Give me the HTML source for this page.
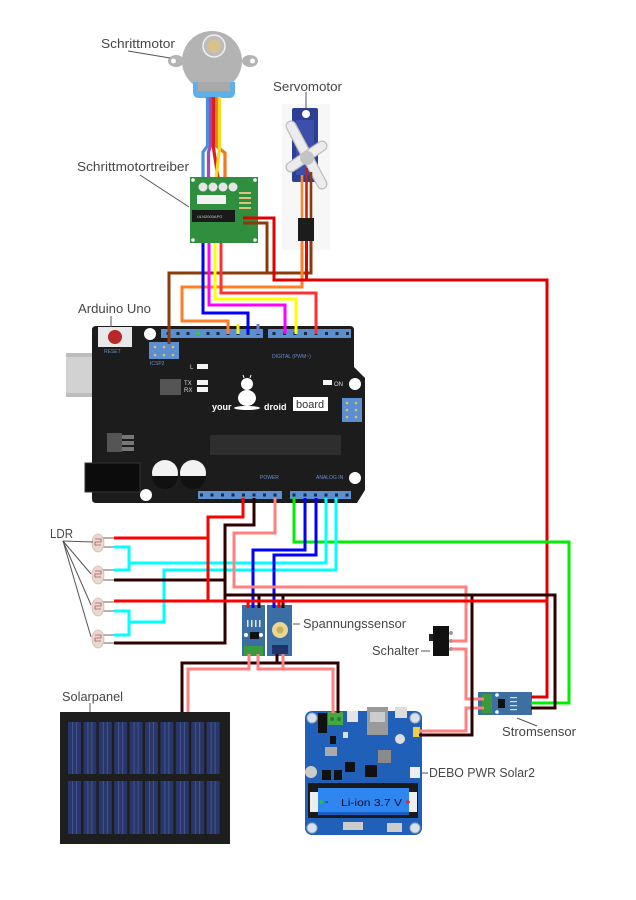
<!DOCTYPE html>
<html><head><meta charset="utf-8"><style>
html,body{margin:0;padding:0;background:#fff;}
svg{display:block;}
text{font-family:"Liberation Sans",sans-serif;}
</style></head><body>
<svg width="636" height="900" viewBox="0 0 636 900" xmlns="http://www.w3.org/2000/svg">
<rect width="636" height="900" fill="#fff"/>

<!-- ================= STEPPER MOTOR ================= -->
<ellipse cx="176" cy="61" rx="8" ry="6" fill="#b3b3b3"/>
<circle cx="173.5" cy="61" r="2.5" fill="#fff"/>
<ellipse cx="250" cy="61" rx="8" ry="6" fill="#b3b3b3"/>
<circle cx="252.5" cy="61" r="2.5" fill="#fff"/>
<circle cx="212" cy="61" r="30" fill="#b3b3b3"/>
<circle cx="214" cy="46" r="11" fill="#bdbdbd" stroke="#f0f0f0" stroke-width="1.5"/>
<circle cx="214" cy="46" r="6.5" fill="#d8c28a"/>
<path d="M193 82 H235 V92 Q235 98 229 98 H199 Q193 98 193 92 Z" fill="#5fb0e8"/>
<rect x="198" y="82" width="32" height="9" fill="#a9a9a9"/>
<g fill="none" stroke-width="3.2">
<path d="M207.5 97 V146 L203 152 V197" stroke="#4a90d9"/>
<path d="M210.5 97 V146 L208.5 152 V197" stroke="#a848b8"/>
<path d="M216.5 97 V146 L225 153 V197" stroke="#f07a20"/>
<path d="M213.5 97 V148 L221 197" stroke="#d82020"/>
<path d="M219.5 97 V148 L214 197" stroke="#f2dc20"/>
</g>

<!-- ================= DRIVER BOARD ================= -->
<rect x="190" y="177" width="68" height="66" fill="#2f8f3f"/>
<circle cx="193" cy="180" r="1.8" fill="#fff"/><circle cx="255" cy="180" r="1.8" fill="#fff"/>
<circle cx="193" cy="240" r="1.8" fill="#fff"/><circle cx="255" cy="240" r="1.8" fill="#fff"/>
<circle cx="203" cy="187" r="4.5" fill="#e6e6e6"/>
<circle cx="213" cy="187" r="4.5" fill="#e6e6e6"/>
<circle cx="223" cy="187" r="4.5" fill="#e6e6e6"/>
<circle cx="233" cy="187" r="4.5" fill="#e6e6e6"/>
<rect x="197" y="195" width="29" height="9" fill="#f2f2f2"/>
<g stroke="#e0c080" stroke-width="2">
<line x1="239" y1="193" x2="251" y2="193"/><line x1="239" y1="198" x2="251" y2="198"/>
<line x1="239" y1="203" x2="251" y2="203"/><line x1="239" y1="208" x2="251" y2="208"/>
</g>
<rect x="192" y="210" width="43" height="12" fill="#1a1a1a"/>
<text x="197" y="218" font-size="4" fill="#ccc">ULN2003APG</text>

<!-- ================= SERVO ================= -->
<rect x="282" y="104" width="48" height="146" fill="#f7f7f7"/>
<rect x="292" y="108" width="26" height="74" rx="2" fill="#2d3e95"/>
<rect x="296" y="120" width="18" height="55" fill="#3b4fab"/>
<circle cx="306" cy="114" r="4" fill="#fff"/>
<line x1="291" y1="126" x2="322" y2="184" stroke="#bdbdbd" stroke-width="11" stroke-linecap="round"/>
<line x1="291" y1="126" x2="322" y2="184" stroke="#ececec" stroke-width="8.5" stroke-linecap="round"/>
<line x1="291" y1="167" x2="322" y2="146" stroke="#bdbdbd" stroke-width="11" stroke-linecap="round"/>
<line x1="291" y1="167" x2="322" y2="146" stroke="#ececec" stroke-width="8.5" stroke-linecap="round"/>
<circle cx="307" cy="158" r="7" fill="#c4c4c4"/>
<g fill="none" stroke-width="2.6">
<path d="M302 175 V218" stroke="#f08a30"/>
<path d="M306.5 168 V218" stroke="#c82010"/>
<path d="M311 172 V218" stroke="#8b3a0a"/>
</g>
<rect x="298" y="218" width="16" height="23" fill="#1c1c1c"/>

<!-- ================= ARDUINO ================= -->
<rect x="66" y="353" width="62" height="44" fill="#bdbdbd"/>
<rect x="66" y="357" width="44" height="36" fill="#d2d2d2"/>
<path d="M96 326 H350 Q354 326 354 330 V367 L365 378 V490 L357 503 H96 Q92 503 92 499 V330 Q92 326 96 326 Z" fill="#1c1c1c"/>
<rect x="85" y="463" width="55" height="29" fill="#0c0c0c" stroke="#333" stroke-width="1"/>
<rect x="98" y="327" width="34" height="20" fill="#e8e8e8"/>
<circle cx="115" cy="337" r="7" fill="#b82828"/>
<text x="104" y="353" font-size="5" fill="#6a8fc8">RESET</text>
<!-- headers -->
<rect x="161" y="329" width="102" height="9" fill="#5b8fd0"/>
<rect x="268" y="329" width="83" height="9" fill="#5b8fd0"/>
<g fill="#1a2a40">
<rect x="166.5" y="332" width="3" height="3"/><rect x="176.5" y="332" width="3" height="3"/><rect x="186.5" y="332" width="3" height="3"/><rect x="196.5" y="332" width="3" height="3"/><rect x="206.5" y="332" width="3" height="3"/><rect x="216.5" y="332" width="3" height="3"/><rect x="226.5" y="332" width="3" height="3"/><rect x="236.5" y="332" width="3" height="3"/><rect x="246.5" y="332" width="3" height="3"/><rect x="256.5" y="332" width="3" height="3"/>
<rect x="272.5" y="332" width="3" height="3"/><rect x="283" y="332" width="3" height="3"/><rect x="293.5" y="332" width="3" height="3"/><rect x="304" y="332" width="3" height="3"/><rect x="314.5" y="332" width="3" height="3"/><rect x="325" y="332" width="3" height="3"/><rect x="335.5" y="332" width="3" height="3"/><rect x="346" y="332" width="3" height="3"/>
</g>
<rect x="196.5" y="332" width="3" height="3" fill="#3c3"/>
<rect x="149" y="342" width="30" height="17" fill="#5b8fd0"/>
<g fill="#d8c070">
<circle cx="155" cy="347" r="1.3"/><circle cx="164" cy="347" r="1.3"/><circle cx="173" cy="347" r="1.3"/>
<circle cx="155" cy="355" r="1.3"/><circle cx="164" cy="355" r="1.3"/><circle cx="173" cy="355" r="1.3"/>
</g>
<text x="150" y="365" font-size="5" fill="#6a8fc8">ICSP2</text>
<text x="272" y="358" font-size="5" fill="#6a8fc8">DIGITAL (PWM~)</text>
<!-- holes -->
<circle cx="150" cy="334" r="6" fill="#fff"/>
<circle cx="355" cy="384" r="6" fill="#fff"/>
<circle cx="355" cy="478" r="6" fill="#fff"/>
<circle cx="146" cy="495" r="6" fill="#fff"/>
<!-- leds -->
<text x="190" y="369" font-size="6" fill="#ddd">L</text>
<rect x="197" y="364" width="11" height="5" fill="#f4f4f4"/>
<text x="184" y="385" font-size="6" fill="#ddd">TX</text>
<rect x="197" y="380" width="11" height="5" fill="#f4f4f4"/>
<text x="184" y="392" font-size="6" fill="#ddd">RX</text>
<rect x="197" y="387" width="11" height="5" fill="#f4f4f4"/>
<rect x="323" y="380" width="9" height="5" fill="#f4f4f4"/>
<text x="334" y="386" font-size="6" fill="#ddd">ON</text>
<rect x="160" y="379" width="21" height="16" fill="#555"/>
<!-- logo -->
<circle cx="247" cy="384" r="6" fill="#fff"/>
<ellipse cx="247" cy="398" rx="9" ry="8" fill="#fff"/>
<ellipse cx="247" cy="408" rx="13" ry="2" fill="#fff"/>
<line x1="244" y1="378" x2="243" y2="375" stroke="#fff" stroke-width="1"/>
<line x1="250" y1="378" x2="251" y2="375" stroke="#fff" stroke-width="1"/>
<text x="212" y="410" font-size="9" font-weight="bold" fill="#fff">your</text>
<text x="264" y="410" font-size="9" font-weight="bold" fill="#fff">droid</text>
<rect x="293" y="397" width="35" height="14" fill="#fff"/>
<text x="296" y="408" font-size="11" fill="#333">board</text>
<rect x="342" y="398" width="20" height="24" fill="#5b8fd0"/>
<g fill="#d8c070">
<circle cx="347" cy="403" r="1.3"/><circle cx="356" cy="403" r="1.3"/>
<circle cx="347" cy="410" r="1.3"/><circle cx="356" cy="410" r="1.3"/>
<circle cx="347" cy="417" r="1.3"/><circle cx="356" cy="417" r="1.3"/>
</g>
<rect x="210" y="435" width="131" height="20" fill="#2e2e2e"/>
<rect x="107" y="433" width="15" height="19" fill="#555"/>
<rect x="122" y="435" width="12" height="4" fill="#777"/><rect x="122" y="441" width="12" height="4" fill="#777"/><rect x="122" y="447" width="12" height="4" fill="#777"/>
<!-- capacitors -->
<circle cx="165" cy="473" r="13" fill="#f2f2f2"/>
<path d="M152 476 A13 13 0 0 0 178 476 Z" fill="#111"/>
<circle cx="193" cy="473" r="13" fill="#f2f2f2"/>
<path d="M180 476 A13 13 0 0 0 206 476 Z" fill="#111"/>
<!-- bottom headers -->
<text x="260" y="479" font-size="5" fill="#6a8fc8">POWER</text>
<text x="316" y="479" font-size="5" fill="#6a8fc8">ANALOG IN</text>
<rect x="198" y="491" width="84" height="8" fill="#5b8fd0"/>
<rect x="290" y="491" width="61" height="8" fill="#5b8fd0"/>
<g fill="#1a2a40">
<rect x="200" y="493.5" width="3" height="3"/><rect x="210.5" y="493.5" width="3" height="3"/><rect x="221" y="493.5" width="3" height="3"/><rect x="231.5" y="493.5" width="3" height="3"/><rect x="242" y="493.5" width="3" height="3"/><rect x="252.5" y="493.5" width="3" height="3"/><rect x="263" y="493.5" width="3" height="3"/><rect x="273.5" y="493.5" width="3" height="3"/>
<rect x="292.5" y="493.5" width="3" height="3"/><rect x="303.5" y="493.5" width="3" height="3"/><rect x="314" y="493.5" width="3" height="3"/><rect x="324.5" y="493.5" width="3" height="3"/><rect x="335" y="493.5" width="3" height="3"/><rect x="345.5" y="493.5" width="3" height="3"/>
</g>

<!-- ================= LDRs ================= -->
<g>
<g stroke="#999" stroke-width="1.5">
<line x1="103" y1="538" x2="114" y2="538"/><line x1="103" y1="547" x2="114" y2="547"/>
<line x1="103" y1="570" x2="114" y2="570"/><line x1="103" y1="580" x2="114" y2="580"/>
<line x1="103" y1="602" x2="114" y2="602"/><line x1="103" y1="611" x2="114" y2="611"/>
<line x1="103" y1="635" x2="114" y2="635"/><line x1="103" y1="643" x2="114" y2="643"/>
</g>
<g fill="#e8d8d2" stroke="#d0bcb4" stroke-width="0.8">
<ellipse cx="98" cy="543" rx="6" ry="9"/>
<ellipse cx="98" cy="575" rx="6" ry="9"/>
<ellipse cx="98" cy="607" rx="6" ry="9"/>
<ellipse cx="98" cy="639" rx="6" ry="9"/>
</g>
<g fill="none" stroke="#b55" stroke-width="0.8">
<path d="M95 539 h6 v3 h-6 v3 h6"/><path d="M95 571 h6 v3 h-6 v3 h6"/>
<path d="M95 603 h6 v3 h-6 v3 h6"/><path d="M95 635 h6 v3 h-6 v3 h6"/>
</g>
</g>

<!-- ================= VOLTAGE SENSORS ================= -->
<rect x="242" y="605" width="23" height="51" fill="#3b6ea5"/>
<rect x="244" y="646" width="19" height="10" fill="#3a9a40"/>
<rect x="250" y="632" width="9" height="7" fill="#111"/>
<circle cx="246" cy="635" r="2" fill="#fff"/><circle cx="261" cy="635" r="2" fill="#fff"/>
<g fill="#e8e8e8"><rect x="247" y="620" width="1.5" height="7"/><rect x="251" y="620" width="1.5" height="7"/><rect x="255" y="620" width="1.5" height="7"/><rect x="259" y="620" width="1.5" height="7"/></g>
<rect x="267" y="605" width="25" height="51" fill="#3b6ea5"/>
<circle cx="280" cy="630" r="8" fill="#e8d890"/>
<circle cx="280" cy="630" r="3.5" fill="#c8b060"/>
<rect x="272" y="645" width="16" height="9" fill="#22336a"/>

<!-- ================= SCHALTER ================= -->
<rect x="429" y="634" width="5" height="7" fill="#222"/>
<rect x="433" y="626" width="16" height="30" fill="#111"/>
<g fill="#999"><circle cx="451" cy="633" r="2"/><circle cx="451" cy="641" r="2"/><circle cx="451" cy="649" r="2"/></g>

<!-- ================= STROMSENSOR ================= -->
<rect x="478" y="692" width="54" height="23" fill="#3d6fa3"/>
<rect x="482" y="694" width="10" height="19" fill="#3a9a3a"/>
<rect x="498" y="699" width="7" height="9" fill="#111"/>
<circle cx="497" cy="695" r="1.8" fill="#fff"/><circle cx="497" cy="712" r="1.8" fill="#fff"/>
<g fill="#ddd"><rect x="510" y="697" width="7" height="1.2"/><rect x="510" y="701" width="7" height="1.2"/><rect x="510" y="705" width="7" height="1.2"/><rect x="510" y="709" width="7" height="1.2"/></g>

<!-- ================= SOLAR PANEL ================= -->
<rect x="60" y="712" width="170" height="132" fill="#1e1e1e"/>
<g fill="#28366a">
<rect x="68" y="722" width="13" height="52"/><rect x="83.4" y="722" width="13" height="52"/><rect x="98.8" y="722" width="13" height="52"/><rect x="114.2" y="722" width="13" height="52"/><rect x="129.6" y="722" width="13" height="52"/><rect x="145" y="722" width="13" height="52"/><rect x="160.4" y="722" width="13" height="52"/><rect x="175.8" y="722" width="13" height="52"/><rect x="191.2" y="722" width="13" height="52"/><rect x="206.6" y="722" width="13" height="52"/>
<rect x="68" y="781" width="13" height="53"/><rect x="83.4" y="781" width="13" height="53"/><rect x="98.8" y="781" width="13" height="53"/><rect x="114.2" y="781" width="13" height="53"/><rect x="129.6" y="781" width="13" height="53"/><rect x="145" y="781" width="13" height="53"/><rect x="160.4" y="781" width="13" height="53"/><rect x="175.8" y="781" width="13" height="53"/><rect x="191.2" y="781" width="13" height="53"/><rect x="206.6" y="781" width="13" height="53"/>
</g>
<g stroke="#4a5c98" stroke-width="0.8">
<path d="M72.5 722 V774 M76.5 722 V774 M87.9 722 V774 M91.9 722 V774 M103.3 722 V774 M107.3 722 V774 M118.7 722 V774 M122.7 722 V774 M134.1 722 V774 M138.1 722 V774 M149.5 722 V774 M153.5 722 V774 M164.9 722 V774 M168.9 722 V774 M180.3 722 V774 M184.3 722 V774 M195.7 722 V774 M199.7 722 V774 M211.1 722 V774 M215.1 722 V774"/>
<path d="M72.5 781 V834 M76.5 781 V834 M87.9 781 V834 M91.9 781 V834 M103.3 781 V834 M107.3 781 V834 M118.7 781 V834 M122.7 781 V834 M134.1 781 V834 M138.1 781 V834 M149.5 781 V834 M153.5 781 V834 M164.9 781 V834 M168.9 781 V834 M180.3 781 V834 M184.3 781 V834 M195.7 781 V834 M199.7 781 V834 M211.1 781 V834 M215.1 781 V834"/>
</g>

<!-- ================= DEBO PWR SOLAR2 ================= -->
<rect x="305" y="711" width="117" height="124" rx="7" fill="#2160b8"/>
<g fill="#d8e2ee" stroke="#9ab" stroke-width="1">
<circle cx="312" cy="718" r="5"/><circle cx="415" cy="718" r="5"/>
<circle cx="312" cy="828" r="5"/><circle cx="415" cy="828" r="5"/>
</g>
<rect x="318" y="713" width="9" height="20" fill="#111"/>
<rect x="328" y="712" width="15" height="13" fill="#45a845"/>
<circle cx="332" cy="719" r="2" fill="#2a7a2a"/><circle cx="339" cy="719" r="2" fill="#2a7a2a"/>
<rect x="347" y="711" width="11" height="11" fill="#e4e4e4"/>
<rect x="367" y="707" width="21" height="28" fill="#9a9a9a"/>
<rect x="370" y="712" width="15" height="10" fill="#ccc"/>
<rect x="395" y="707" width="12" height="11" fill="#ddd"/>
<rect x="413" y="727" width="7" height="10" fill="#f0d040"/>
<circle cx="400" cy="739" r="5" fill="#ddd"/>
<rect x="378" y="750" width="13" height="13" fill="#8a8a8a"/>
<rect x="325" y="747" width="12" height="9" fill="#aaa"/>
<rect x="345" y="762" width="10" height="10" fill="#111"/>
<rect x="365" y="765" width="12" height="12" fill="#111"/>
<rect x="322" y="770" width="9" height="10" fill="#111"/>
<rect x="334" y="770" width="8" height="10" fill="#111"/>
<rect x="330" y="736" width="6" height="8" fill="#111"/>
<rect x="343" y="732" width="5" height="6" fill="#ddd"/>
<rect x="410" y="767" width="10" height="11" fill="#eee"/>
<circle cx="311" cy="772" r="6" fill="#ccc"/>
<rect x="308" y="783" width="110" height="35" fill="#1a1a1a"/>
<rect x="310" y="792" width="10" height="20" fill="#eee"/>
<rect x="408" y="792" width="9" height="20" fill="#eee"/>
<rect x="318" y="788" width="91" height="27" fill="#2f86f0"/>
<rect x="318" y="812" width="91" height="3" fill="#1a5fc0"/>
<circle cx="321" cy="802" r="1.8" fill="#2c2"/>
<circle cx="408" cy="802" r="1.8" fill="#e22"/>
<text x="325" y="805" font-size="10" font-family="'Liberation Mono',monospace" fill="#0a1030">-</text>
<text x="341" y="806" font-size="10.5" font-family="'Liberation Mono',monospace" fill="#0a1030" textLength="61" lengthAdjust="spacingAndGlyphs">Li-ion 3.7 V</text>
<rect x="343" y="822" width="20" height="8" fill="#ccc"/>
<rect x="387" y="823" width="15" height="9" fill="#ccc"/>

<!-- ================= WIRES ================= -->
<g fill="none" stroke-width="3" stroke-linejoin="miter">
<!-- top -->
<path d="M243 223 H267 V273" stroke="#8b3a0a"/>
<path d="M311 241 V273 H169 V344" stroke="#8b3a0a"/>
<path d="M302 241 V287 H182 V321 H228 V334" stroke="#ff7f27"/>
<path d="M243 218 H274 V280 H547 V697 H531" stroke="#e00000"/>
<path d="M306.5 241 V280" stroke="#e00000"/>
<path d="M221 243 V293 H316 V334" stroke="#ff3030"/>
<path d="M215 243 V299 H296 V334" stroke="#ffff00"/>
<path d="M209 243 V305 H285 V334" stroke="#ff00ff"/>
<path d="M203 243 V313 H248 V334" stroke="#0000ff"/>
<path d="M238 324 V334" stroke="#eeee20"/>
<path d="M258 324 V334" stroke="#6a7fd8"/>

<!-- bottom Arduino -->
<path d="M294 498 V542 H569 V703 H531" stroke="#00ee00"/>
<path d="M336 498 V570 H164 V622 H129" stroke="#00ffff"/>
<path d="M114 611 H129 V635 H114" stroke="#00ffff"/>
<path d="M326 498 V563 H129" stroke="#00ffff"/>
<path d="M114 547 H129 V570 H114" stroke="#00ffff"/>
<path d="M305 498 V550 H253 V608" stroke="#0000ff"/>
<path d="M316 498 V555 H274 V608" stroke="#0000ff"/>
<path d="M275 498 V533 H234 V587 H466 V641 H452" stroke="#ff8080"/>
<path d="M452 649 H466 V699 H484" stroke="#ff8080"/>
<path d="M484 708 H466 V731 H419" stroke="#ff8080"/>
<path d="M254 498 V525 H225 V643 H114" stroke="#2d0000"/>
<path d="M114 580 H225" stroke="#2d0000"/>
<path d="M225 595 H555 V708 H531" stroke="#2d0000"/>
<path d="M472 595 V735 H419" stroke="#2d0000"/>
<path d="M259 595 V608" stroke="#2d0000"/>
<path d="M283 595 V608" stroke="#2d0000"/>
<path d="M243 498 V517 H208 V601" stroke="#ff0000"/>
<path d="M114 538 H208" stroke="#ff0000"/>
<path d="M114 601 H547" stroke="#ff0000"/>
<path d="M248 601 V608" stroke="#ff0000"/>
<path d="M279 601 V608" stroke="#ff0000"/>

<!-- solar -->
<path d="M182 712 V663 H338 V713" stroke="#2d0000"/>
<path d="M277 654 V663" stroke="#2d0000"/>
<path d="M249 654 V669 H188 V712" stroke="#ff8080"/>
<path d="M258 654 V669 H333 V713" stroke="#ff8080"/>
<path d="M283 654 V669" stroke="#ff8080"/>
</g>

<!-- ================= LABELS ================= -->
<g stroke="#555" stroke-width="1" fill="none">
<line x1="128" y1="51" x2="170" y2="58"/>
<line x1="306" y1="92" x2="306" y2="108"/>
<line x1="140" y1="175" x2="189" y2="207"/>
<line x1="111" y1="316" x2="111" y2="327"/>
<line x1="63" y1="541" x2="93" y2="542"/>
<line x1="63" y1="541" x2="91" y2="574"/>
<line x1="63" y1="541" x2="91" y2="605"/>
<line x1="63" y1="541" x2="91" y2="637"/>
<line x1="293" y1="624" x2="300" y2="624"/>
<line x1="421" y1="651" x2="430" y2="651"/>
<line x1="517" y1="718" x2="537" y2="726"/>
<line x1="421" y1="773" x2="428" y2="773"/>
<line x1="90" y1="703" x2="90" y2="712"/>
</g>
<g font-size="13" fill="#474747">
<text x="101" y="48" textLength="74" lengthAdjust="spacingAndGlyphs">Schrittmotor</text>
<text x="273" y="91" textLength="69" lengthAdjust="spacingAndGlyphs">Servomotor</text>
<text x="77" y="171" textLength="112" lengthAdjust="spacingAndGlyphs">Schrittmotortreiber</text>
<text x="78" y="313" textLength="73" lengthAdjust="spacingAndGlyphs">Arduino Uno</text>
<text x="50" y="538" textLength="23" lengthAdjust="spacingAndGlyphs">LDR</text>
<text x="303" y="628" textLength="103" lengthAdjust="spacingAndGlyphs">Spannungssensor</text>
<text x="372" y="655" textLength="47" lengthAdjust="spacingAndGlyphs">Schalter</text>
<text x="502" y="736" textLength="74" lengthAdjust="spacingAndGlyphs">Stromsensor</text>
<text x="429" y="777" textLength="106" lengthAdjust="spacingAndGlyphs">DEBO PWR Solar2</text>
<text x="62" y="701" textLength="61" lengthAdjust="spacingAndGlyphs">Solarpanel</text>
</g>
</svg>
</body></html>
